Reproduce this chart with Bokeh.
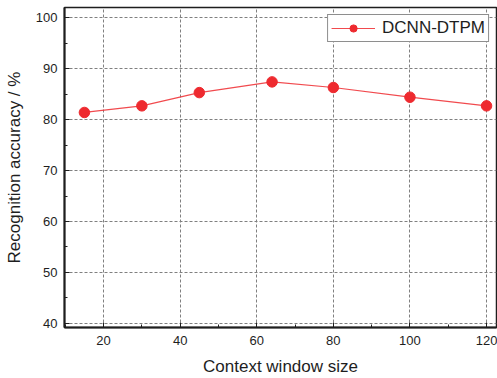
from bokeh.plotting import figure
from bokeh.models import SingleIntervalTicker, Range1d, Legend, LegendItem
from bokeh.embed import file_html
from bokeh.resources import INLINE

window_size = [15, 30, 45, 64, 80, 100, 120]
accuracy = [81.4, 82.7, 85.3, 87.4, 86.3, 84.4, 82.7]
series_name = "DCNN-DTPM"

FONT = "Liberation Sans"
RED = "#ee2a2f"
INK = "#1e1e1e"

p = figure(width=497, height=378, output_backend="svg", toolbar_location=None,
           x_range=Range1d(9.8, 122.6), y_range=Range1d(39.2, 102.0),
           min_border_left=64, min_border_right=1, min_border_top=7, min_border_bottom=51)

p.outline_line_color = INK
p.outline_line_width = 1.5
p.background_fill_color = "white"
p.border_fill_color = "white"

ln = p.line(window_size, accuracy, line_color=RED, line_width=1.2, line_alpha=0.85)
sc = p.scatter(window_size, accuracy, size=10.5, fill_color=RED, line_color=RED)

for ax in (p.xaxis[0], p.yaxis[0]):
    ax.axis_line_color = INK
    ax.axis_line_width = 2
    ax.major_tick_in = 5
    ax.major_tick_out = 0
    ax.minor_tick_in = 3
    ax.minor_tick_out = 0
    ax.major_tick_line_color = INK
    ax.minor_tick_line_color = INK
    ax.major_label_text_font = FONT
    ax.major_label_text_font_size = "13px"
    ax.major_label_text_color = INK
    ax.axis_label_text_font = FONT
    ax.axis_label_text_font_size = "17px"
    ax.axis_label_text_font_style = "normal"
    ax.axis_label_text_color = INK

p.xaxis[0].ticker = SingleIntervalTicker(interval=20, num_minor_ticks=2)
p.yaxis[0].ticker = SingleIntervalTicker(interval=10, num_minor_ticks=2)
p.xaxis[0].axis_label = "Context window size"
p.yaxis[0].axis_label = "Recognition accuracy / %"
p.xaxis[0].major_label_standoff = 8
p.yaxis[0].major_label_standoff = 7
p.xaxis[0].axis_label_standoff = 9
p.yaxis[0].axis_label_standoff = 9

p.xgrid.ticker = SingleIntervalTicker(interval=20)
p.ygrid.ticker = SingleIntervalTicker(interval=10)
for g in (p.xgrid, p.ygrid):
    g.grid_line_color = "#808080"
    g.grid_line_dash = "3 2"
    g.grid_line_width = 1

legend = Legend(items=[LegendItem(label=series_name, renderers=[ln, sc])],
                location="top_right")
legend.label_text_font = FONT
legend.label_text_font_size = "17px"
legend.label_text_color = INK
legend.border_line_color = INK
legend.border_line_width = 1.5
legend.glyph_width = 44
legend.glyph_height = 18
legend.label_height = 18
legend.padding = 3
legend.margin = 7
legend.spacing = 0
legend.label_standoff = 7
legend.background_fill_alpha = 1
p.add_layout(legend)

open("out.html", "w").write(file_html(p, INLINE))
